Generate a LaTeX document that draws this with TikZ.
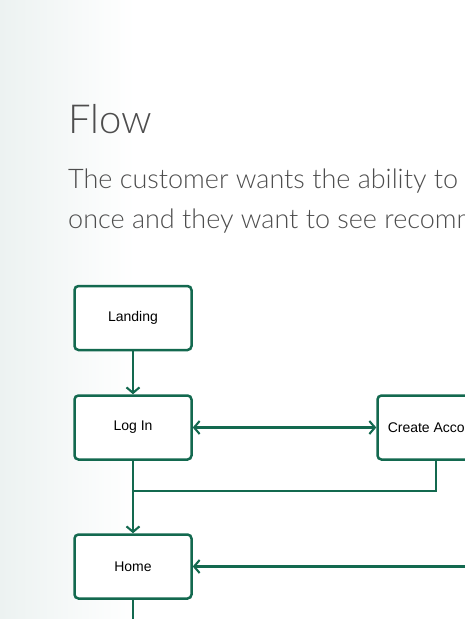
\documentclass[tikz,border=0pt]{standalone}
\usepackage{fontspec}
\setmainfont{Liberation Sans}
\newfontfamily\thinfont{Lato Light}
\usepackage{tikz}
\usetikzlibrary{arrows.meta}
\usepackage{xcolor}
\definecolor{flowgreen}{HTML}{13694F}
\definecolor{textgray}{HTML}{4D4D4D}
\definecolor{sidetint}{HTML}{ECF2F1}

\begin{document}
\begin{tikzpicture}[x=1pt,y=-1pt,>={Straight Barb[length=5.5pt,width=13pt]},
  box/.style={draw=flowgreen,line width=2.5pt,rounded corners=4pt,fill=white,
    minimum width=117pt,minimum height=64pt,inner sep=0pt,font=\fontsize{14}{16}\selectfont},
  link/.style={draw=flowgreen,line width=2.1pt}]
\useasboundingbox (0,0) rectangle (465,619);
\clip (0,0) rectangle (465,619);
\shade[left color=sidetint,right color=white] (0,0) rectangle (135,619);
\node[anchor=base west,text=textgray,inner sep=0pt,font=\thinfont\fontsize{40}{44}\selectfont] (title) at (68,133) {Flow};
\node[anchor=base west,text=textgray,inner sep=0pt,font=\thinfont\fontsize{27}{30}\selectfont] (line1) at (68,188) {The customer wants the ability to};
\node[anchor=base west,text=textgray,inner sep=0pt,font=\thinfont\fontsize{27}{30}\selectfont] (line2) at (68,228) {once and they want to see recommendations};
\node[box] (landing) at (133,318) {Landing};
\node[box] (login) at (133,427.5) {Log In};
\node[box] (create) at (436,427.5) {Create Account};
\node[box] (home) at (133,566.5) {Home};
\coordinate (merge) at (133,491);
\coordinate (fromright) at (475,566.5);
\coordinate (below) at (133,630);
\draw[link,->] (landing) -- (login);
\draw[link,<->] (login) -- (create);
\draw[link] (create) |- (merge);
\draw[link,->] (login) -- (home);
\draw[link,->] (fromright) -- (home);
\draw[link] (home) -- (below);
\end{tikzpicture}
\end{document}
